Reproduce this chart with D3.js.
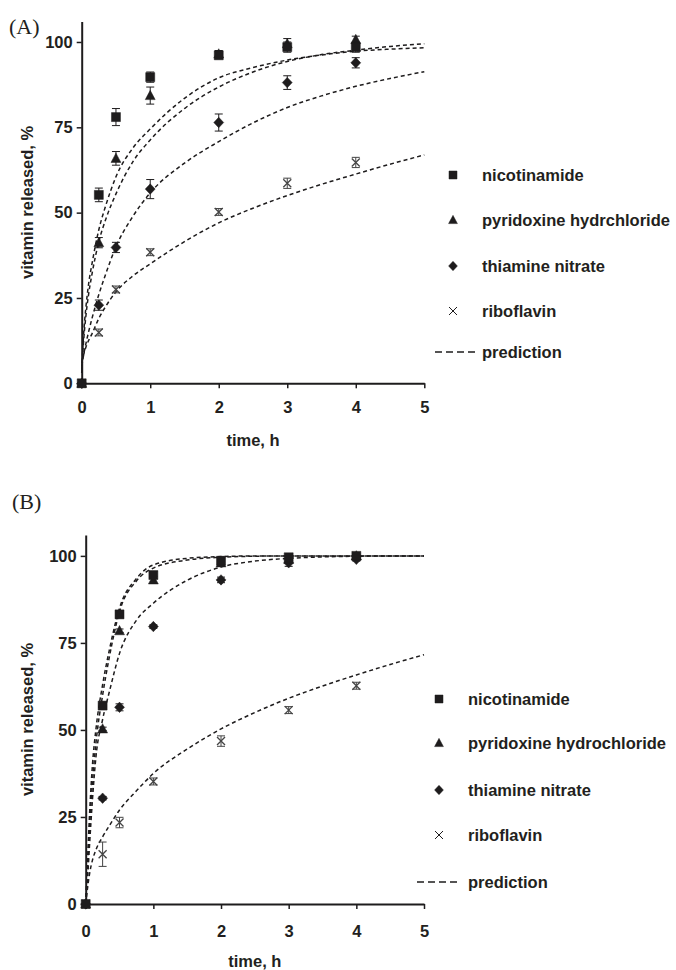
<!DOCTYPE html>
<html>
<head>
<meta charset="utf-8">
<script src="https://cdn.jsdelivr.net/npm/d3@7"></script>
<style>
  body { margin: 0; background: #fff; }
  svg { display: block; }
  text { fill: #231f20; }
</style>
</head>
<body>
<svg id="chart" width="676" height="970"></svg>
<script>
// ---- shared axes / sampling ----
const sampleTimes = [0, 0.25, 0.5, 1, 2, 3, 4];
const xTicks = [0, 1, 2, 3, 4, 5];
const yTicks = [0, 25, 50, 75, 100];
const predTimes = [0, 0.03, 0.06, 0.1, 0.15, 0.25, 0.35, 0.5, 0.75, 1, 1.5, 2, 2.5, 3, 3.5, 4, 4.5, 5];

const legendLabelsA = ["nicotinamide", "pyridoxine hydrchloride", "thiamine nitrate", "riboflavin", "prediction"];
const legendLabelsB = ["nicotinamide", "pyridoxine hydrochloride", "thiamine nitrate", "riboflavin", "prediction"];

// ---- panel A: measured release (%) and error ----
const nicotinamideA    = [0, 55.2, 78.0, 89.7, 96.1, 98.5, 98.5];
const nicotinamideErrA = [0, 2.0, 2.5, 1.5, 1.0, 1.5, 1.5];
const pyridoxineA      = [0, 41.2, 65.9, 84.3, 96.5, 99.5, 100.7];
const pyridoxineErrA   = [0, 1.5, 2.0, 2.5, 1.0, 1.5, 1.0];
const thiamineA        = [0, 22.9, 39.8, 56.9, 76.4, 88.1, 93.9];
const thiamineErrA     = [0, 1.5, 1.5, 2.8, 2.5, 2.0, 1.5];
const riboflavinA      = [0, 14.9, 27.5, 38.4, 50.2, 58.6, 64.7];
const riboflavinErrA   = [0, 1.0, 1.0, 1.0, 1.0, 1.5, 1.5];

// ---- panel A: predicted release (%) at predTimes ----
const predNicotinamideA = [4, 15, 22, 29, 35, 45, 52, 60.5, 69, 74.5, 83.5, 89.5, 92.5, 94.7, 96.2, 97.3, 97.9, 98.3];
const predPyridoxineA   = [3, 13, 19.5, 26, 32, 41.5, 48, 55.5, 65, 71.3, 80.5, 86.8, 91.2, 94.3, 96.3, 97.6, 98.7, 99.5];
const predThiamineA     = [5, 8.5, 11.5, 15, 19, 26, 32, 40, 49, 55.8, 64.5, 70.8, 76.3, 80.8, 84.2, 87, 89.3, 91.3];
const predRiboflavinA   = [6, 8.5, 10.5, 12.5, 14.5, 19, 22.5, 26.8, 31.5, 35, 41.5, 47, 51.3, 55, 58.3, 61.3, 64.2, 66.9];

// ---- panel B: measured release (%) and error ----
const nicotinamideB    = [0, 57.0, 83.2, 94.5, 98.6, 99.6, 100];
const nicotinamideErrB = [0, 0.5, 1.0, 1.0, 1.0, 0.5, 0.5];
const pyridoxineB      = [0, 50.3, 78.5, 93.1, 98.0, 99.0, 100];
const pyridoxineErrB   = [0, 0.5, 0.5, 1.0, 0.5, 1.0, 0.5];
const thiamineB        = [0, 30.4, 56.5, 79.7, 93.1, 98.0, 99.0];
const thiamineErrB     = [0, 0.5, 1.0, 0.5, 0.8, 1.0, 0.5];
const riboflavinB      = [0, 14.3, 23.4, 35.2, 46.8, 55.7, 62.7];
const riboflavinErrB   = [0, 3.5, 1.5, 1.0, 1.5, 1.0, 1.0];

// ---- panel B: predicted release (%) at predTimes ----
const predNicotinamideB = [0, 14, 27, 40, 50, 63, 73, 85, 93.5, 97.4, 99.3, 99.8, 100, 100, 100, 100, 100, 100];
const predPyridoxineB   = [0, 11, 23, 35, 46, 60, 71, 84, 92.8, 96.5, 98.8, 99.6, 99.9, 100, 100, 100, 100, 100];
const predThiamineB     = [0, 8, 18, 30, 42, 53, 61, 72, 81.5, 86.4, 93, 96.8, 98.5, 99.3, 99.7, 99.9, 100, 100];
const predRiboflavinB   = [0, 5, 9, 12.6, 15.5, 19.3, 22.5, 27, 32.5, 37.5, 44.5, 50.3, 55, 59.1, 62.6, 65.8, 68.8, 71.6];

// ---- marker shapes ----
const markerPath = {
  square:   s => `M${-s/2},${-s/2}h${s}v${s}h${-s}Z`,
  triangle: s => `M0,${-s*0.58}L${s*0.55},${s*0.45}L${-s*0.55},${s*0.45}Z`,
  diamond:  s => `M0,${-s*0.58}L${s*0.55},0L0,${s*0.58}L${-s*0.55},0Z`,
  cross:    s => `M${-s/2},${-s/2}L${s/2},${s/2}M${s/2},${-s/2}L${-s/2},${s/2}`
};
const INK = "#1e1c1d";
const FONT = "'Liberation Sans', Arial, Helvetica, sans-serif";
const LABEL_SIZE = 16.5;

const svg = d3.select("#chart");
svg.append("rect").attr("width", 676).attr("height", 970).attr("fill", "#fff");

function drawPanel(p) {
  const g = svg.append("g");
  const x = d3.scaleLinear().domain([0, 5]).range([p.left, p.right]);
  const y = d3.scaleLinear().domain([0, 106]).range([p.bottom, p.top]);

  // panel tag
  svg.append("text").attr("x", p.tagX).attr("y", p.tagY)
    .attr("font-family", "'Liberation Serif', 'Times New Roman', serif")
    .attr("font-size", 22).text(p.tag);

  // prediction curves
  const line = d3.line().x((d, i) => x(predTimes[i])).y(d => y(d)).curve(d3.curveMonotoneX);
  p.series.forEach(s => {
    g.append("path").attr("d", line(s.pred))
      .attr("fill", "none").attr("stroke", INK).attr("stroke-width", 1.5)
      .attr("stroke-dasharray", "4,3");
  });

  // axes
  const yAxis = d3.axisLeft(y).tickValues(yTicks).tickFormat(d3.format("d"))
    .tickSize(5).tickSizeOuter(0).tickPadding(4);
  const xAxis = d3.axisBottom(x).tickValues(xTicks).tickFormat(d3.format("d"))
    .tickSize(5).tickSizeOuter(0).tickPadding(p.xPad);
  const ya = g.append("g").attr("transform", `translate(${p.left},0)`).call(yAxis);
  const xa = g.append("g").attr("transform", `translate(0,${p.bottom})`).call(xAxis);
  [ya, xa].forEach(a => {
    a.select(".domain").attr("stroke", INK).attr("stroke-width", 2);
    a.selectAll(".tick line").attr("stroke", INK).attr("stroke-width", 1.5);
    a.selectAll(".tick text").attr("font-family", FONT).attr("font-weight", "bold")
      .attr("font-size", LABEL_SIZE).attr("fill", INK);
  });

  // axis titles
  g.append("text").attr("x", (p.left + p.right) / 2).attr("y", p.xTitleY)
    .attr("text-anchor", "middle").attr("font-family", FONT).attr("font-weight", "bold")
    .attr("font-size", LABEL_SIZE).text("time, h");
  g.append("text").attr("transform", `translate(${p.yTitleX},${(p.top + p.bottom) / 2}) rotate(-90)`)
    .attr("text-anchor", "middle").attr("font-family", FONT).attr("font-weight", "bold")
    .attr("font-size", LABEL_SIZE).text("vitamin released, %");

  // observations: error bars + markers (riboflavin first, nicotinamide on top)
  p.series.slice().reverse().forEach(s => {
    const pts = sampleTimes.map((t, i) => ({ t, v: s.obs[i], e: s.err[i] }));
    const eg = g.append("g").attr("stroke", s.color).attr("stroke-width", 1);
    pts.filter(d => d.e > 0).forEach(d => {
      const cx = x(d.t), y1 = y(d.v - d.e), y2 = y(d.v + d.e);
      eg.append("line").attr("x1", cx).attr("x2", cx).attr("y1", y1).attr("y2", y2);
      eg.append("line").attr("x1", cx - 4).attr("x2", cx + 4).attr("y1", y1).attr("y2", y1);
      eg.append("line").attr("x1", cx - 4).attr("x2", cx + 4).attr("y1", y2).attr("y2", y2);
    });
    g.selectAll(null).data(pts).join("path")
      .attr("transform", d => `translate(${x(d.t)},${y(d.v)})`)
      .attr("d", markerPath[s.shape](s.shape === "cross" ? 8 : 9))
      .attr("fill", s.shape === "cross" ? "none" : s.color)
      .attr("stroke", s.color).attr("stroke-width", s.shape === "cross" ? 1.3 : 0.5);
  });

  // legend
  const lg = svg.append("g");
  p.series.forEach((s, i) => {
    lg.append("path").attr("transform", `translate(${p.legMarkX},${p.legRows[i]})`)
      .attr("d", markerPath[s.shape](8))
      .attr("fill", s.shape === "cross" ? "none" : INK)
      .attr("stroke", INK).attr("stroke-width", s.shape === "cross" ? 1 : 0.5);
    lg.append("text").attr("x", p.legTextX).attr("y", p.legRows[i]).attr("dy", "0.35em")
      .attr("font-family", FONT).attr("font-weight", "bold").attr("font-size", LABEL_SIZE)
      .text(p.labels[i]);
  });
  const py = p.legRows[4];
  lg.append("line").attr("x1", p.legDashX0).attr("x2", p.legDashX1).attr("y1", py).attr("y2", py)
    .attr("stroke", INK).attr("stroke-width", 1.5).attr("stroke-dasharray", "7,4");
  lg.append("text").attr("x", p.legTextX).attr("y", py).attr("dy", "0.35em")
    .attr("font-family", FONT).attr("font-weight", "bold").attr("font-size", LABEL_SIZE)
    .text(p.labels[4]);
}

drawPanel({
  tag: "(A)", tagX: 9, tagY: 34,
  left: 81.7, right: 424.3, top: 21.5, bottom: 383.3,
  xPad: 13, xTitleY: 446, yTitleX: 33,
  legMarkX: 453, legTextX: 482, legDashX0: 435, legDashX1: 476,
  legRows: [175, 220, 266, 311, 352],
  labels: legendLabelsA,
  series: [
    { obs: nicotinamideA, err: nicotinamideErrA, pred: predNicotinamideA, shape: "square",   color: INK },
    { obs: pyridoxineA,   err: pyridoxineErrA,   pred: predPyridoxineA,   shape: "triangle", color: INK },
    { obs: thiamineA,     err: thiamineErrA,     pred: predThiamineA,     shape: "diamond",  color: INK },
    { obs: riboflavinA,   err: riboflavinErrA,   pred: predRiboflavinA,   shape: "cross",    color: "#444" }
  ]
});

drawPanel({
  tag: "(B)", tagX: 12, tagY: 509,
  left: 85.7, right: 424, top: 535, bottom: 904,
  xPad: 16, xTitleY: 967, yTitleX: 33,
  legMarkX: 439, legTextX: 468, legDashX0: 417, legDashX1: 460,
  legRows: [699, 743, 790, 835, 882],
  labels: legendLabelsB,
  series: [
    { obs: nicotinamideB, err: nicotinamideErrB, pred: predNicotinamideB, shape: "square",   color: INK },
    { obs: pyridoxineB,   err: pyridoxineErrB,   pred: predPyridoxineB,   shape: "triangle", color: INK },
    { obs: thiamineB,     err: thiamineErrB,     pred: predThiamineB,     shape: "diamond",  color: INK },
    { obs: riboflavinB,   err: riboflavinErrB,   pred: predRiboflavinB,   shape: "cross",    color: "#444" }
  ]
});
</script>
</body>
</html>
